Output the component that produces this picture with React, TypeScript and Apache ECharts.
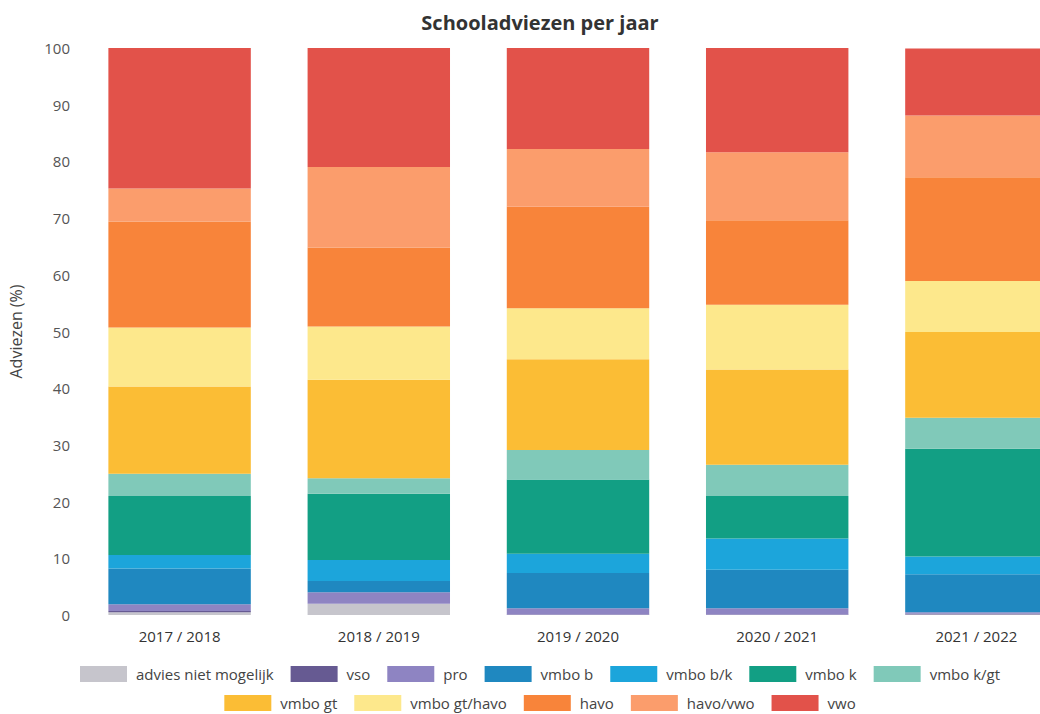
import React, { useEffect, useRef } from "react";
import * as echarts from "echarts";

const years = ["2017 / 2018", "2018 / 2019", "2019 / 2020", "2020 / 2021", "2021 / 2022"];
const adviesNietMogelijk = [0.5, 2.0, 0.0, 0.0, 0.1];
const vso = [0.2, 0.0, 0.1, 0.1, 0.1];
const pro = [1.2, 2.0, 1.1, 1.1, 0.3];
const vmboB = [6.3, 2.0, 6.2, 6.8, 6.7];
const vmboBK = [2.4, 3.7, 3.4, 5.5, 3.1];
const vmboK = [10.4, 11.7, 13.1, 7.5, 19.0];
const vmboKGT = [3.9, 2.7, 5.2, 5.5, 5.5];
const vmboGT = [15.4, 17.4, 16.0, 16.8, 15.1];
const vmboGTHavo = [10.4, 9.4, 9.0, 11.4, 9.0];
const havo = [18.7, 13.9, 17.9, 14.9, 18.3];
const havoVwo = [5.8, 14.2, 10.2, 12.0, 10.9];
const vwo = [24.8, 21.0, 17.8, 18.4, 11.8];

const seriesDefs = [
  { name: "advies niet mogelijk", data: adviesNietMogelijk, color: "#c6c5cc" },
  { name: "vso", data: vso, color: "#665a92" },
  { name: "pro", data: pro, color: "#8e84c2" },
  { name: "vmbo b", data: vmboB, color: "#1f88c0" },
  { name: "vmbo b/k", data: vmboBK, color: "#1ca5db" },
  { name: "vmbo k", data: vmboK, color: "#129f84" },
  { name: "vmbo k/gt", data: vmboKGT, color: "#80c9b9" },
  { name: "vmbo gt", data: vmboGT, color: "#fbbd35" },
  { name: "vmbo gt/havo", data: vmboGTHavo, color: "#fde88c" },
  { name: "havo", data: havo, color: "#f8843a" },
  { name: "havo/vwo", data: havoVwo, color: "#fb9d6c" },
  { name: "vwo", data: vwo, color: "#e2524a" },
];

const FONT = "'Open Sans', sans-serif";

export default function App() {
  const ref = useRef<HTMLDivElement>(null);
  useEffect(() => {
    document.body.style.margin = "0";
    const chart = echarts.init(ref.current!, null, { renderer: "svg" });
    const legendCommon = {
      itemWidth: 47,
      itemHeight: 16,
      itemGap: 17,
      icon: "rect",
      left: "center",
      textStyle: { fontFamily: FONT, fontSize: 15, color: "#444", padding: [0, 0, 0, 4] },
    };
    chart.setOption({
      animation: false,
      textStyle: { fontFamily: FONT },
      title: {
        text: "Schooladviezen per jaar",
        left: "center",
        top: 7,
        textStyle: { fontFamily: FONT, fontSize: 20, fontWeight: "bold", color: "#333" },
      },
      legend: [
        { ...legendCommon, top: 661, data: seriesDefs.slice(0, 7).map((s) => s.name) },
        { ...legendCommon, top: 690, data: seriesDefs.slice(7).map((s) => s.name) },
      ],
      grid: { left: 76, right: 4, top: 48, bottom: 99 },
      xAxis: {
        type: "category",
        data: years,
        axisLine: { show: false },
        axisTick: { show: false },
        axisLabel: { fontFamily: FONT, fontSize: 15, color: "#333", margin: 13 },
      },
      yAxis: {
        type: "value",
        min: 0,
        max: 100,
        interval: 10,
        name: "Adviezen (%)",
        nameLocation: "middle",
        nameGap: 56,
        nameTextStyle: { fontFamily: FONT, fontSize: 16, color: "#444" },
        axisLine: { show: false },
        axisTick: { show: false },
        splitLine: { show: false },
        axisLabel: { fontFamily: FONT, fontSize: 15, color: "#555", margin: 10 },
      },
      series: seriesDefs.map((s) => ({
        name: s.name,
        type: "bar",
        stack: "total",
        data: s.data,
        barWidth: "71.5%",
        itemStyle: { color: s.color },
      })),
    });
    return () => chart.dispose();
  }, []);
  return (
    <div style={{ position: "absolute", left: 0, top: 0, width: 1040, height: 714, overflow: "hidden", background: "#fff" }}>
      <div ref={ref} style={{ width: 1080, height: 714 }} />
    </div>
  );
}
